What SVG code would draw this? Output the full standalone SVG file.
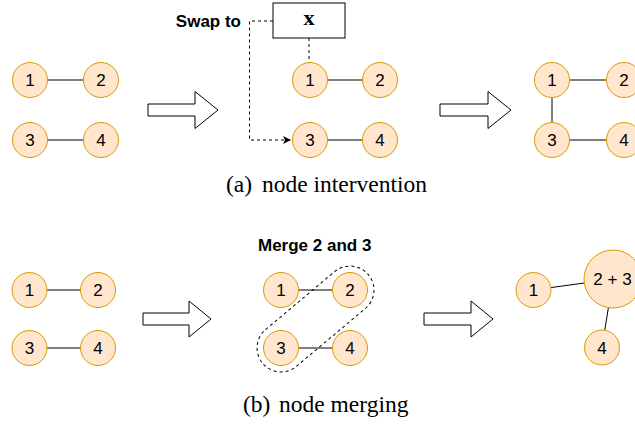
<svg xmlns="http://www.w3.org/2000/svg" width="635" height="427" viewBox="0 0 635 427">
<defs>
<style>
.n circle{fill:#ffe6cc;stroke:#d79b00;stroke-width:1}
.n text{font-family:"Liberation Sans",Arial,sans-serif;font-size:17px;fill:#000;text-anchor:middle}
.e line{stroke:#000;stroke-width:1}
.d{stroke:#000;stroke-width:1;stroke-dasharray:3 3;fill:none}
.ba{fill:#fff;stroke:#000;stroke-width:1}
.lbl{font-family:"Liberation Sans",Arial,sans-serif;font-size:17px;font-weight:bold;fill:#000}
.cap{font-family:"Liberation Serif","Times New Roman",serif;font-size:23.5px;fill:#000}
</style>
<marker id="ah" viewBox="0 0 10 10" refX="10" refY="5" markerWidth="10" markerHeight="8" markerUnits="userSpaceOnUse" orient="auto">
<path d="M0,0 L10,5 L0,10 L2.5,5 Z" fill="#000"/>
</marker>
</defs>

<g id="connectors" class="e">
<line x1="47.5" y1="80" x2="83.5" y2="80"/>
<line x1="47.5" y1="140" x2="83.5" y2="140"/>
<line x1="327.5" y1="80" x2="362.5" y2="80"/>
<line x1="327.5" y1="140" x2="362.5" y2="140"/>
<line x1="569.5" y1="80" x2="606.5" y2="80"/>
<line x1="569.5" y1="140" x2="606.5" y2="140"/>
<line x1="552" y1="97.5" x2="552" y2="122.5"/>
<line x1="47" y1="290" x2="80.5" y2="290"/>
<line x1="47" y1="348" x2="80.5" y2="348"/>
<line x1="298.5" y1="290" x2="332.5" y2="290"/>
<line x1="298.5" y1="348" x2="332.5" y2="348"/>
<line x1="550.8" y1="287.6" x2="584.3" y2="283"/>
<line x1="608.4" y1="307.6" x2="604.8" y2="330.2"/>
<path class="d" d="M273,21 H249.5 V140 H291" marker-end="url(#ah)"/>
<line class="d" x1="309" y1="38" x2="309" y2="62.5"/>
</g>

<g id="arrows">
<polygon class="ba" points="148,104 195,104 195,91.5 218,110 195,128.5 195,116 148,116"/>
<polygon class="ba" points="440,104 488,104 488,91.5 511,110 488,128.5 488,116 440,116"/>
<polygon class="ba" points="143,313 189,313 189,301 211,319 189,337 189,325 143,325"/>
<polygon class="ba" points="424,313 471,313 471,301 493,319 471,337 471,325 424,325"/>
</g>

<g id="a-left">
<g id="a1" class="n"><circle cx="30" cy="80" r="17.5"/><text x="30" y="86">1</text></g>
<g id="a2" class="n"><circle cx="101" cy="80" r="17.5"/><text x="101" y="86">2</text></g>
<g id="a3" class="n"><circle cx="30" cy="140" r="17.5"/><text x="30" y="146">3</text></g>
<g id="a4" class="n"><circle cx="101" cy="140" r="17.5"/><text x="101" y="146">4</text></g>
</g>

<g id="swap">
<text class="lbl" x="241" y="27" text-anchor="end">Swap to</text>
<g id="xbox"><rect x="273" y="3" width="72" height="35" fill="#fff" stroke="#000" stroke-width="1"/>
<text x="309" y="25" text-anchor="middle" font-family="'Liberation Serif','Times New Roman',serif" font-weight="bold" font-size="22">x</text></g>
</g>

<g id="a-mid">
<g id="m1" class="n"><circle cx="310" cy="80" r="17.5"/><text x="310" y="86">1</text></g>
<g id="m2" class="n"><circle cx="380" cy="80" r="17.5"/><text x="380" y="86">2</text></g>
<g id="m3" class="n"><circle cx="310" cy="140" r="17.5"/><text x="310" y="146">3</text></g>
<g id="m4" class="n"><circle cx="380" cy="140" r="17.5"/><text x="380" y="146">4</text></g>
</g>

<g id="a-right">
<g id="r1" class="n"><circle cx="552" cy="80" r="17.5"/><text x="552" y="86">1</text></g>
<g id="r2" class="n"><circle cx="624" cy="80" r="17.5"/><text x="624" y="86">2</text></g>
<g id="r3" class="n"><circle cx="552" cy="140" r="17.5"/><text x="552" y="146">3</text></g>
<g id="r4" class="n"><circle cx="624" cy="140" r="17.5"/><text x="624" y="146">4</text></g>
</g>

<text class="cap" x="226" y="192">(a)</text>
<text class="cap" x="262" y="192">node intervention</text>

<g id="b-left">
<g id="b1" class="n"><circle cx="29.5" cy="290" r="17.5"/><text x="29.5" y="296">1</text></g>
<g id="b2" class="n"><circle cx="98" cy="290" r="17.5"/><text x="98" y="296">2</text></g>
<g id="b3" class="n"><circle cx="29.5" cy="348" r="17.5"/><text x="29.5" y="354">3</text></g>
<g id="b4" class="n"><circle cx="98" cy="348" r="17.5"/><text x="98" y="354">4</text></g>
</g>

<g id="b-mid">
<text class="lbl" x="258" y="251">Merge 2 and 3</text>
<g id="c1" class="n"><circle cx="281" cy="290" r="17.5"/><text x="281" y="296">1</text></g>
<g id="c2" class="n"><circle cx="350" cy="290" r="17.5"/><text x="350" y="296">2</text></g>
<g id="c3" class="n"><circle cx="281" cy="348" r="17.5"/><text x="281" y="354">3</text></g>
<g id="c4" class="n"><circle cx="350" cy="348" r="17.5"/><text x="350" y="354">4</text></g>
<rect id="merge-outline" class="d" x="246.5" y="295" width="138" height="48" rx="24" ry="24" transform="rotate(-40 315.5 319)"/>
</g>

<g id="b-right">
<g id="d1" class="n"><circle cx="533.5" cy="290" r="17.5"/><text x="533.5" y="296">1</text></g>
<g id="d23" class="n"><circle cx="613" cy="279" r="29"/><text x="612.5" y="285">2 + 3</text></g>
<g id="d4" class="n"><circle cx="602" cy="347.5" r="17.5"/><text x="602" y="353.5">4</text></g>
</g>

<text class="cap" x="243" y="412">(b)</text>
<text class="cap" x="279" y="412">node merging</text>
</svg>
